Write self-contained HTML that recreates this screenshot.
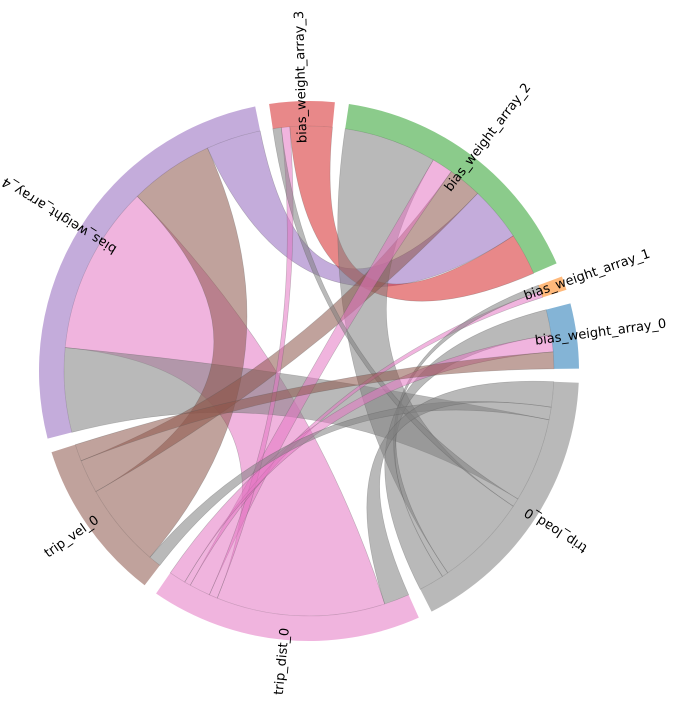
<!DOCTYPE html>
<html><head><meta charset="utf-8"><style>
html,body{margin:0;padding:0;background:#fff;}
svg text{font-family:"DejaVu Sans","Liberation Sans",sans-serif;font-size:13px;fill:#000;}
</style></head><body>
<svg id="chart" width="679" height="710" viewBox="0 0 679 710" xmlns="http://www.w3.org/2000/svg">
<g id="chords"></g>
<g id="ring"></g>
<g id="labels"></g>
</svg>
<script>
const nodes = ["bias_weight_array_0","bias_weight_array_1","bias_weight_array_2","bias_weight_array_3","bias_weight_array_4","trip_vel_0","trip_dist_0","trip_load_0"];
const nodeColors = ["#1f77b4","#ff7f0e","#2ca02c","#d62728","#9467bd","#8c564b","#e377c2","#7f7f7f"];
// chords: [colorNode, otherNode, value]
const chordFrom = [6,7,5,4,3,7,5,6,6,7,6,7,7,6,5,7,7];
const chordTo   = [4,4,4,2,2,2,2,2,3,3,1,1,0,0,0,5,6];
const chordVal  = [40,20,20,13,10,22,8,5,2,2,1.5,1.5,6,4,4,3,6];

const cx=309, cy=371, R0=245, R1=270, gap=3, start=0.5;
const N=nodes.length;
const ns="http://www.w3.org/2000/svg";
const sizes=new Array(N).fill(0);
chordVal.forEach((v,k)=>{sizes[chordFrom[k]]+=v;sizes[chordTo[k]]+=v;});
const total=sizes.reduce((a,b)=>a+b,0);
const scale=(360-N*gap)/total;
const nStart=[],nEnd=[];
let a=start;
for(let i=0;i<N;i++){nStart.push(a);a+=sizes[i]*scale;nEnd.push(a);a+=gap;}
function P(r,deg){const t=deg*Math.PI/180;return [cx+r*Math.cos(t),cy-r*Math.sin(t)];}
function f(p){return p[0].toFixed(2)+","+p[1].toFixed(2);}
const ends={};
for(let i=0;i<N;i++){
  const list=[];
  chordVal.forEach((v,k)=>{
    if(chordFrom[k]===i) list.push({k,o:chordTo[k],v});
    else if(chordTo[k]===i) list.push({k,o:chordFrom[k],v});
  });
  list.sort((p,q)=>p.o-q.o);
  let s=nStart[i];
  list.forEach(e=>{const e2=s+e.v*scale;ends[e.k+"_"+i]=[s,e2];s=e2;});
}
const cg=document.getElementById('chords');
chordVal.forEach((v,k)=>{
  const A=ends[k+"_"+chordFrom[k]],B=ends[k+"_"+chordTo[k]];
  const la=(A[1]-A[0])>180?1:0, lb=(B[1]-B[0])>180?1:0;
  const d="M"+f(P(R0,A[0]))+" A"+R0+","+R0+" 0 "+la+" 0 "+f(P(R0,A[1]))+
    " Q"+cx+","+cy+" "+f(P(R0,B[0]))+" A"+R0+","+R0+" 0 "+lb+" 0 "+f(P(R0,B[1]))+
    " Q"+cx+","+cy+" "+f(P(R0,A[0]))+"Z";
  const p=document.createElementNS(ns,'path');
  p.setAttribute('d',d);
  p.setAttribute('fill',nodeColors[chordFrom[k]]);
  p.setAttribute('fill-opacity','0.55');
  p.setAttribute('stroke','#555');
  p.setAttribute('stroke-opacity','0.35');
  p.setAttribute('stroke-width','0.6');
  
  
  cg.appendChild(p);
});
const rg=document.getElementById('ring'),lg=document.getElementById('labels');
for(let i=0;i<N;i++){
  const s=nStart[i],e=nEnd[i],l=(e-s)>180?1:0;
  const d="M"+f(P(R1,s))+" A"+R1+","+R1+" 0 "+l+" 0 "+f(P(R1,e))+" L"+f(P(R0,e))+
    " A"+R0+","+R0+" 0 "+l+" 1 "+f(P(R0,s))+"Z";
  const p=document.createElementNS(ns,'path');
  p.setAttribute('d',d);
  p.setAttribute('fill',nodeColors[i]);
  p.setAttribute('fill-opacity','0.55');
  
  
  rg.appendChild(p);
  const m=(s+e)/2;
  const t=document.createElementNS(ns,'text');
  let rot,anchor,r;
  if(m<180){rot=-m;anchor='start';r=228;}else{rot=-m+180;anchor='end';r=258;}
  const pt=P(r,m);
  t.setAttribute('x',pt[0].toFixed(2));
  t.setAttribute('y',pt[1].toFixed(2));
  t.setAttribute('text-anchor',anchor);
  t.setAttribute('dominant-baseline','middle');
  t.setAttribute('transform','rotate('+rot.toFixed(2)+' '+pt[0].toFixed(2)+' '+pt[1].toFixed(2)+')');
  t.textContent=nodes[i];
  
  
  lg.appendChild(t);
}
</script>
</body></html>
